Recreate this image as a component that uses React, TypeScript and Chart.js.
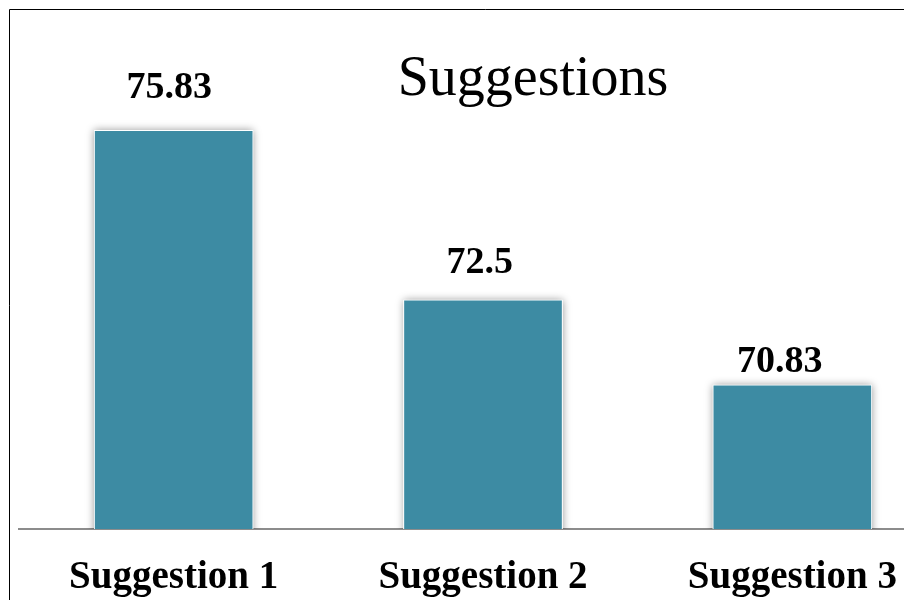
import React, { useEffect, useRef } from "react";
import { Chart, registerables } from "chart.js";

Chart.register(...registerables);

// Survey scores per suggestion
const categories = ["Suggestion 1", "Suggestion 2", "Suggestion 3"];
const scores = [75.83, 72.5, 70.83];
const chartTitle = "Suggestions";
const axisMin = 68;
const axisMax = 78;

const SERIF = "'Liberation Serif', 'Times New Roman', serif";
const BAR_COLOR = "#3d8ba3";

// Per-label nudges for the value captions (gap above bar top, horizontal shift)
const captionGap = [32, 27, 13];
const captionShift = [-4.3, -3.2, -12.5];

const decorPlugin = {
  id: "decor",
  beforeDraw(chart: any) {
    const { ctx, width, height } = chart;
    ctx.save();
    ctx.fillStyle = "#ffffff";
    ctx.fillRect(0, 0, width, height);
    // outer frame (top and left edges)
    ctx.strokeStyle = "#000000";
    ctx.lineWidth = 1;
    ctx.beginPath();
    ctx.moveTo(9.5, height + 2);
    ctx.lineTo(9.5, 9.5);
    ctx.lineTo(width + 2, 9.5);
    ctx.stroke();
    // title
    ctx.fillStyle = "#000000";
    ctx.font = `56px ${SERIF}`;
    ctx.textAlign = "center";
    ctx.textBaseline = "alphabetic";
    ctx.fillText(chartTitle, 533, 95);
    ctx.restore();
  },
  beforeDatasetsDraw(chart: any) {
    // soft drop shadow behind each bar
    const { ctx, chartArea } = chart;
    const meta = chart.getDatasetMeta(0);
    ctx.save();
    ctx.beginPath();
    ctx.rect(chartArea.left, 0, chartArea.right - chartArea.left, chartArea.bottom);
    ctx.clip();
    ctx.shadowColor = "rgba(0,0,0,0.4)";
    ctx.shadowBlur = 8;
    ctx.shadowOffsetX = 0;
    ctx.shadowOffsetY = 0;
    ctx.fillStyle = "#ffffff";
    meta.data.forEach((bar: any) => {
      const w = bar.width;
      ctx.fillRect(bar.x - w / 2, bar.y, w, bar.base - bar.y);
    });
    ctx.restore();
  },
  afterDatasetsDraw(chart: any) {
    const ctx = chart.ctx;
    const meta = chart.getDatasetMeta(0);
    ctx.save();
    ctx.fillStyle = "#000000";
    ctx.font = `bold 38px ${SERIF}`;
    ctx.textAlign = "center";
    ctx.textBaseline = "alphabetic";
    meta.data.forEach((bar: any, i: number) => {
      const v = chart.data.datasets[0].data[i];
      ctx.fillText(String(v), bar.x + captionShift[i], bar.y - captionGap[i]);
    });
    ctx.restore();
  },
};

export default function App() {
  const canvasRef = useRef<HTMLCanvasElement | null>(null);

  useEffect(() => {
    if (!canvasRef.current) return;
    const chart = new Chart(canvasRef.current, {
      type: "bar",
      data: {
        labels: categories,
        datasets: [
          {
            data: scores,
            backgroundColor: BAR_COLOR,
            borderColor: "#ffffff",
            borderWidth: 1,
            barThickness: 159,
          },
        ],
      },
      options: {
        animation: false,
        responsive: false,
        devicePixelRatio: 1,
        layout: { padding: { left: 19, right: 13, top: 20, bottom: 0 } },
        plugins: {
          legend: { display: false },
          title: { display: false },
          tooltip: { enabled: false },
        },
        scales: {
          x: {
            z: 1,
            grid: { display: false, drawTicks: false },
            border: { display: true, color: "#8c8c8c", width: 2 },
            ticks: {
              color: "#000000",
              padding: 26,
              font: { family: SERIF, size: 39, weight: "bold" },
            },
            afterFit: (scale: any) => {
              scale.height = 71;
            },
          },
          y: {
            display: false,
            min: axisMin,
            max: axisMax,
          },
        },
      },
      plugins: [decorPlugin],
    });
    return () => chart.destroy();
  }, []);

  return (
    <div
      style={{
        position: "fixed",
        left: 0,
        top: 0,
        width: 904,
        height: 600,
        overflow: "hidden",
        background: "#ffffff",
      }}
    >
      <canvas ref={canvasRef} width={960} height={600} style={{ display: "block" }} />
    </div>
  );
}
